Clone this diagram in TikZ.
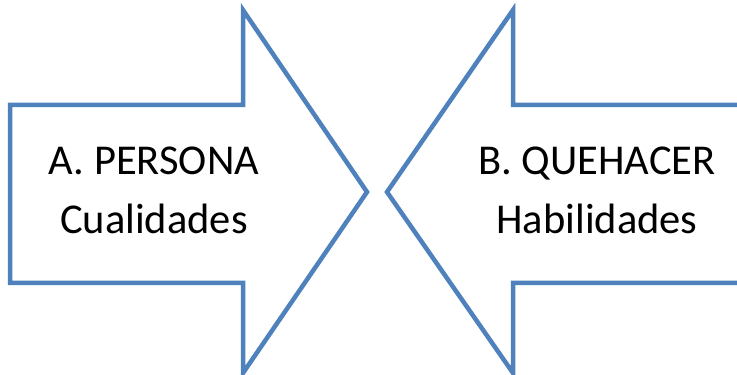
\documentclass[tikz,border=0pt]{standalone}
\usepackage{fontspec}
\setmainfont{Carlito}
\usepackage{xcolor}
\usetikzlibrary{positioning}
\definecolor{arrowblue}{HTML}{4F81BD}

\begin{document}
\begin{tikzpicture}[
    x=1pt, y=1pt,
    blockarrow/.style={draw=arrowblue, line width=4.5pt, line join=miter, fill=white},
    every node/.style={
        font=\fontsize{42.5}{50}\selectfont,
        inner sep=0pt,
        anchor=base
    }
]
\useasboundingbox (0,0) rectangle (737,375);

% Flecha izquierda (A)
\draw[blockarrow] (10,270) -- (243,270) -- (243,365) -- (367,183)
    -- (243,2) -- (243,92) -- (10,92) -- cycle;

% Flecha derecha (B), abierta por el borde derecho
\draw[blockarrow] (745,270) -- (513,270) -- (513,365) -- (387,183)
    -- (513,2) -- (513,92) -- (745,92);

% Textos
\node (persona) at (154,200) {A. PERSONA};
\node (cualidades) [below=59pt of persona.base, anchor=base] {Cualidades};
\node (quehacer) at (597,200) {B. QUEHACER};
\node (habilidades) [below=59pt of quehacer.base, anchor=base] {Habilidades};

\end{tikzpicture}
\end{document}
